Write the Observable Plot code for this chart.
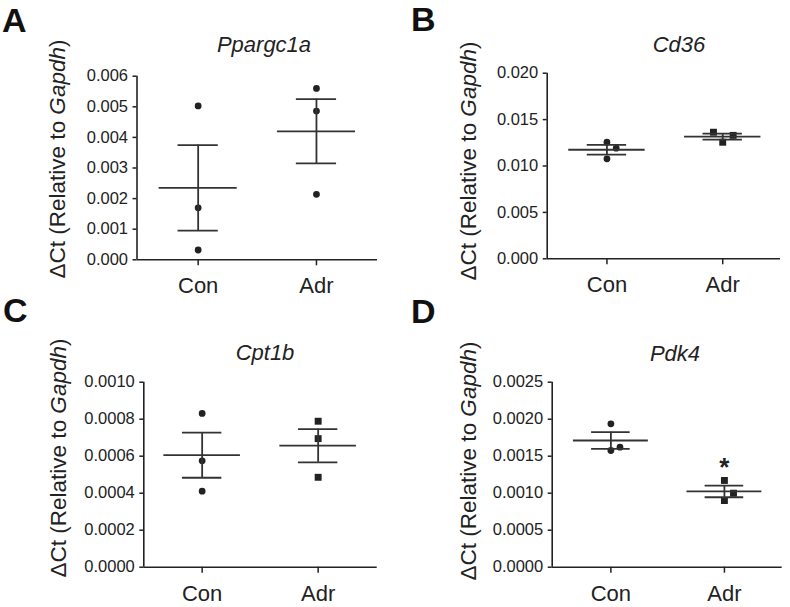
<!DOCTYPE html>
<html><head><meta charset="utf-8">
<script src="https://cdn.jsdelivr.net/npm/d3@7"></script>
<script src="https://cdn.jsdelivr.net/npm/@observablehq/plot@0.6"></script>
<style>
body{margin:0;background:#fff;font-family:"Liberation Sans",Arial,sans-serif}
#wrap{position:relative;width:790px;height:607px;overflow:hidden}
.panel{position:absolute}
#overlay{position:absolute;left:0;top:0;pointer-events:none}
</style>
</head><body><div id="wrap"></div>
<script>
// ---------- data ----------
const groups = ["Con", "Adr"];
const panelLetters = ["A", "B", "C", "D"];
const geneNames = ["Ppargc1a", "Cd36", "Cpt1b", "Pdk4"];

const conA = [0.00503, 0.00170, 0.00032];
const adrA = [0.00560, 0.00486, 0.00214];
const conSpreadA = [0, 0, 0];
const adrSpreadA = [0, 0, 0];

const conB = [0.01256, 0.01192, 0.01077];
const adrB = [0.01364, 0.01330, 0.01256];
const conSpreadB = [0, 0.08, 0];
const adrSpreadB = [-0.08, 0.09, 0];

const conC = [0.000831, 0.000575, 0.000411];
const adrC = [0.000789, 0.000695, 0.000486];
const conSpreadC = [0, 0, 0];
const adrSpreadC = [0, 0, 0];

const conD = [0.001938, 0.001577, 0.001622];
const adrD = [0.001172, 0.001000, 0.000901];
const conSpreadD = [0, 0, 0.08];
const adrSpreadD = [0, 0.08, 0];

const yTicksA = [0, 0.001, 0.002, 0.003, 0.004, 0.005, 0.006];
const yTicksB = [0, 0.005, 0.010, 0.015, 0.020];
const yTicksC = [0, 0.0002, 0.0004, 0.0006, 0.0008, 0.0010];
const yTicksD = [0, 0.0005, 0.0010, 0.0015, 0.0020, 0.0025];
const yFormats = [".3f", ".3f", ".4f", ".4f"];
const adrSymbols = ["circle", "square", "square", "square"];
const yLabelPrefix = "ΔCt (Relative to ";
const yLabelGene = "Gapdh";
const sigMarks = [{panel: "D", group: "Adr", y: 0.00142, text: "*"}];

// ---------- layout ----------
const layouts = [
  {left: 0,   top: 0,   h: 300, mL: 136.5, mR: 18,  mT: 75.7, mB: 40.7, xd: [0.483, 2.516]},
  {left: 395, top: 0,   h: 300, mL: 151.7, mR: 10,  mT: 72.7, mB: 41.7, xd: [0.484, 2.499]},
  {left: 0,   top: 300, h: 307, mL: 143.3, mR: 18.3, mT: 81.7, mB: 40.3, xd: [0.497, 2.509]},
  {left: 395, top: 300, h: 307, mL: 156.7, mR: 8.3, mT: 81.7, mB: 40.3, xd: [0.483, 2.509]}
];
const conVals = [conA, conB, conC, conD];
const adrVals = [adrA, adrB, adrC, adrD];
const conSpr = [conSpreadA, conSpreadB, conSpreadC, conSpreadD];
const adrSpr = [adrSpreadA, adrSpreadB, adrSpreadC, adrSpreadD];
const yTicks = [yTicksA, yTicksB, yTicksC, yTicksD];

const ink = "#222";
const wrap = document.getElementById("wrap");

layouts.forEach((L, p) => {
  const points = [];
  [conVals[p], adrVals[p]].forEach((vals, gi) => {
    const spr = gi === 0 ? conSpr[p] : adrSpr[p];
    vals.forEach((v, k) => points.push({group: groups[gi], gx: gi + 1 + spr[k], v, symbol: gi === 0 ? "circle" : adrSymbols[p]}));
  });
  const stats = [conVals[p], adrVals[p]].map((vals, gi) => {
    const m = d3.mean(vals);
    const se = d3.deviation(vals) / Math.sqrt(vals.length);
    return {gx: gi + 1, mean: m, lo: m - se, hi: m + se};
  });
  const ticks = yTicks[p];
  const yMax = ticks[ticks.length - 1];
  const sig = sigMarks.filter(s => s.panel === panelLetters[p]).map(s => ({...s, gx: groups.indexOf(s.group) + 1}));

  const chart = Plot.plot({
    width: 395, height: L.h,
    marginLeft: L.mL, marginRight: L.mR, marginTop: L.mT, marginBottom: L.mB,
    style: {color: ink, background: "transparent", fontFamily: '"Liberation Sans", Arial, sans-serif'},
    x: {type: "linear", domain: L.xd},
    y: {type: "linear", domain: [0, yMax], nice: false},
    symbol: {type: "identity"},
    r: {type: "identity"},
    marks: [
      Plot.axisY(ticks, {anchor: "left", tickSize: 4, tickPadding: 5, tickFormat: d3.format(yFormats[p]), fontSize: 16.5, strokeWidth: 1.5, label: null}),
      Plot.axisX([1, 2], {anchor: "bottom", tickSize: 6, tickPadding: 12, tickFormat: d => groups[d - 1], fontSize: 22, strokeWidth: 1.5, label: null}),
      Plot.ruleX([L.xd[0]], {y1: 0, y2: yMax, stroke: ink, strokeWidth: 1.6}),
      Plot.ruleY([0], {stroke: ink, strokeWidth: 1.6}),
      Plot.dot(points, {x: "gx", y: "v", symbol: "symbol", r: d => d.symbol === "square" ? 3.9 : 3.4, fill: ink, stroke: "none"}),
      Plot.ruleY(stats, {y: "mean", x1: d => d.gx - 0.33, x2: d => d.gx + 0.33, stroke: "#333", strokeWidth: 1.8}),
      Plot.ruleY(stats, {y: "hi", x1: d => d.gx - 0.17, x2: d => d.gx + 0.17, stroke: "#333", strokeWidth: 1.8}),
      Plot.ruleY(stats, {y: "lo", x1: d => d.gx - 0.17, x2: d => d.gx + 0.17, stroke: "#333", strokeWidth: 1.8}),
      Plot.ruleX(stats, {x: "gx", y1: "lo", y2: "hi", stroke: "#333", strokeWidth: 1.8}),
      Plot.text(sig, {x: "gx", y: "y", text: "text", fontSize: 26, fontWeight: "bold", fill: ink, dy: 6})
    ]
  });
  chart.classList.add("panel");
  chart.style.left = L.left + "px";
  chart.style.top = L.top + "px";
  wrap.appendChild(chart);
});

// ---------- overlay text (letters, titles, y labels) ----------
const ov = d3.select(wrap).append("svg").attr("id", "overlay").attr("width", 790).attr("height", 607)
  .style("font-family", '"Liberation Sans", Arial, sans-serif').attr("fill", ink);
const letterPos = [[2, 32], [411, 31], [3, 322], [411, 323]];
const titlePos = [[264, 52], [679, 52], [265, 360], [675, 361]];
const ylabPos = [[65, 159], [476, 161], [66, 458], [476, 461]];
panelLetters.forEach((t, i) => {
  ov.append("text").attr("x", letterPos[i][0]).attr("y", letterPos[i][1])
    .attr("font-size", 34).attr("font-weight", "bold").attr("fill", "#111").text(t);
  ov.append("text").attr("x", titlePos[i][0]).attr("y", titlePos[i][1])
    .attr("font-size", 22).attr("font-style", "italic").attr("text-anchor", "middle").text(geneNames[i]);
  const yl = ov.append("text").attr("transform", `translate(${ylabPos[i][0]},${ylabPos[i][1]}) rotate(-90)`)
    .attr("font-size", 22.5).attr("text-anchor", "middle");
  yl.append("tspan").text(yLabelPrefix);
  yl.append("tspan").attr("font-style", "italic").text(yLabelGene);
  yl.append("tspan").text(")");
});
</script>
</body></html>
